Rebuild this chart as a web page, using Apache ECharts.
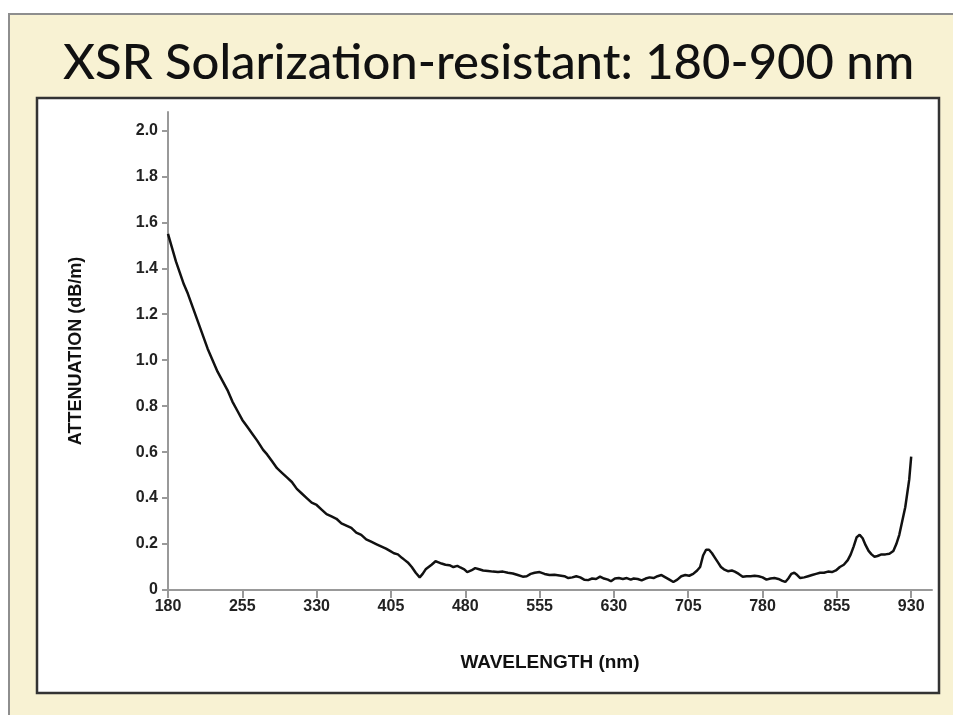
<!DOCTYPE html>
<html>
<head>
<meta charset="utf-8">
<script src="https://cdn.jsdelivr.net/npm/echarts@6/dist/echarts.min.js"></script>
<style>
  html, body { margin: 0; padding: 0; background: #fff; }
  #chart { width: 953px; height: 715px; }
</style>
</head>
<body>
<div id="chart"></div>
<script>
// wavelength (nm)
var wavelength = [
  180,184,188,192,196,200,205,210,215,220,225,230,235,240,245,250,255,260,265,270,
  276,280,285,290,295,300,305,310,315,320,325,330,335,340,345,350,355,360,365,370,
  375,380,385,390,395,400,404,408,412,416,419,422,426,430,434,437,440,443,446,450,
  453,456,460,464,468,472,475,479,482,486,490,494,498,503,508,513,518,523,528,533,
  538,542,546,550,555,560,565,570,575,580,584,588,592,596,600,604,608,612,616,620,
  624,627,631,635,639,643,647,650,654,658,662,666,670,674,678,682,686,690,694,698,
  702,706,710,714,717,720,723,726,729,732,735,738,741,745,749,752,756,760,764,768,
  772,776,780,784,788,792,796,800,803,806,809,812,815,818,822,826,830,834,838,842,
  846,850,854,858,862,866,869,872,875,878,881,884,887,890,893,896,900,904,908,912,
  915,918,921,924,926,928,930
];
// attenuation (dB/m)
var attenuation = [
  1.55,1.49,1.43,1.38,1.33,1.29,1.23,1.17,1.11,1.05,1.00,0.95,0.91,0.87,0.82,0.78,0.74,0.71,0.68,0.65,
  0.61,0.59,0.56,0.53,0.51,0.49,0.47,0.44,0.42,0.40,0.38,0.37,0.35,0.33,0.32,0.31,0.29,0.28,0.27,0.25,
  0.24,0.22,0.21,0.20,0.19,0.18,0.17,0.16,0.155,0.14,0.13,0.12,0.10,0.075,0.055,0.07,0.09,0.10,0.11,0.125,
  0.12,0.115,0.11,0.108,0.10,0.105,0.098,0.09,0.078,0.085,0.095,0.09,0.085,0.083,0.08,0.078,0.08,0.075,0.072,0.065,
  0.058,0.06,0.07,0.075,0.078,0.07,0.065,0.066,0.063,0.06,0.052,0.055,0.06,0.055,0.045,0.043,0.05,0.048,0.058,0.05,
  0.045,0.038,0.05,0.052,0.048,0.052,0.045,0.05,0.048,0.042,0.05,0.055,0.052,0.06,0.065,0.055,0.045,0.035,0.045,0.06,
  0.065,0.062,0.07,0.085,0.10,0.15,0.175,0.175,0.16,0.14,0.12,0.10,0.09,0.082,0.085,0.08,0.07,0.058,0.06,0.06,
  0.062,0.06,0.055,0.045,0.05,0.052,0.048,0.04,0.035,0.05,0.07,0.075,0.065,0.052,0.055,0.06,0.065,0.07,0.075,0.075,
  0.08,0.078,0.085,0.10,0.11,0.13,0.155,0.19,0.23,0.24,0.225,0.195,0.17,0.155,0.145,0.148,0.155,0.155,0.158,0.17,
  0.20,0.24,0.30,0.36,0.42,0.48,0.58
];
var xTicks = [180,255,330,405,480,555,630,705,780,855,930];
var yTicks = [0,0.2,0.4,0.6,0.8,1.0,1.2,1.4,1.6,1.8,2.0];

var points = wavelength.map(function (w, i) { return [w, attenuation[i]]; });

var labelFont = { fontFamily: 'Liberation Sans', fontWeight: 'bold', fontSize: 16, color: '#222' };

var myChart = echarts.init(document.getElementById('chart'));
var option = {
  backgroundColor: '#fff',
  animation: false,
  title: {
    text: 'XSR Solarization-resistant: 180-900 nm',
    left: 58,
    top: 34,
    textStyle: { fontFamily: 'Lato', fontWeight: 500, fontSize: 49, color: '#111' }
  },
  graphic: [
    { type: 'rect', z: -20, shape: { x: 9, y: 14, width: 960, height: 720 },
      style: { fill: '#f8f2d3', stroke: '#8e8e8e', lineWidth: 2 } },
    { type: 'rect', z: -10, shape: { x: 37, y: 98, width: 902, height: 595 },
      style: { fill: '#fff', stroke: '#333', lineWidth: 2.5 } }
  ],
  grid: { left: 168, right: 21, top: 112, bottom: 125 },
  xAxis: {
    type: 'value',
    min: 180,
    max: 951,
    name: 'WAVELENGTH (nm)',
    nameLocation: 'middle',
    nameGap: 63,
    nameTextStyle: { fontFamily: 'Liberation Sans', fontWeight: 'bold', fontSize: 19, color: '#111' },
    axisLine: { lineStyle: { color: '#999', width: 2 } },
    axisTick: { customValues: xTicks, length: 8, lineStyle: { color: '#999', width: 2 } },
    axisLabel: Object.assign({ customValues: xTicks, margin: 9 }, labelFont),
    splitLine: { show: false }
  },
  yAxis: {
    type: 'value',
    min: 0,
    max: 2.08,
    name: 'ATTENUATION (dB/m)',
    nameLocation: 'middle',
    nameGap: 83,
    nameTextStyle: { fontFamily: 'Liberation Sans', fontWeight: 'bold', fontSize: 18, color: '#111' },
    axisLine: { show: true, lineStyle: { color: '#999', width: 2 } },
    axisTick: { show: true, customValues: yTicks, length: 6, lineStyle: { color: '#999', width: 2 } },
    axisLabel: Object.assign({
      customValues: yTicks, margin: 10,
      formatter: function (v) { return v === 0 ? '0' : v.toFixed(1); }
    }, labelFont),
    splitLine: { show: false }
  },
  series: [{
    type: 'line',
    data: points,
    showSymbol: false,
    smooth: false,
    lineStyle: { color: '#111', width: 2.5 }
  }]
};
myChart.setOption(option);
</script>
</body>
</html>
